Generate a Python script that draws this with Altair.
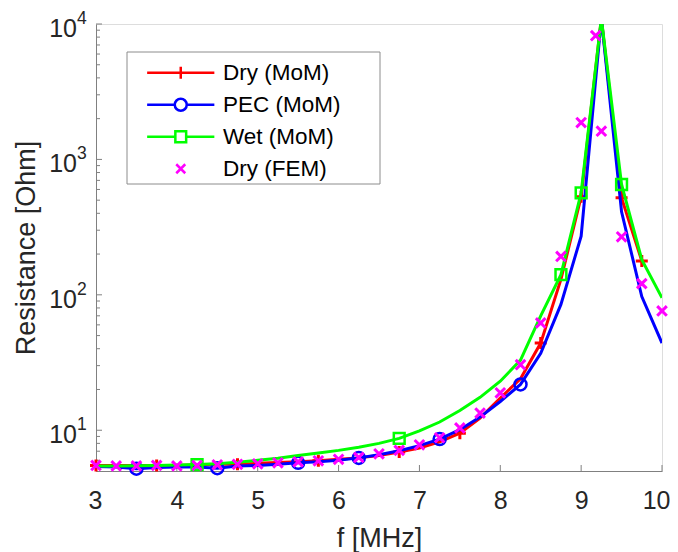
import altair as alt
import pandas as pd

FONT = "Liberation Sans"

# ---------------- data ----------------
freq = [3.0, 3.25, 3.5, 3.75, 4.0, 4.25, 4.5, 4.75, 5.0, 5.25, 5.5, 5.75, 6.0, 6.25,
        6.5, 6.75, 7.0, 7.25, 7.5, 7.75, 8.0, 8.25, 8.5, 8.75, 9.0, 9.25, 9.5, 9.75, 10.0]

dry_mom = [5.5, 5.5, 5.5, 5.5, 5.5, 5.55, 5.6, 5.6, 5.7, 5.78, 5.85, 5.95, 6.1, 6.25,
           6.5, 6.9, 7.4, 8.2, 9.5, 12.3, 17.3, 24.0, 44.0, 130.0, 530.0, 11000.0, 520.0, 178.0]

pec_mom = [5.4, 5.35, 5.2, 5.3, 5.35, 5.35, 5.25, 5.45, 5.5, 5.6, 5.75, 5.85, 6.0, 6.25,
           6.6, 7.05, 7.7, 8.6, 10.1, 12.5, 16.3, 21.8, 37.0, 85.0, 271.0, 11000.0, 410.0, 97.0, 44.0]

wet_mom = [5.45, 5.45, 5.47, 5.5, 5.53, 5.58, 5.65, 5.8, 6.0, 6.2, 6.5, 6.8, 7.1, 7.5,
           8.0, 8.7, 9.9, 11.5, 14.0, 17.5, 23.0, 33.0, 70.0, 141.0, 567.0, 11000.0, 653.0, 182.0, 95.0]

fem_freq = [3.0, 3.25, 3.5, 3.75, 4.0, 4.25, 4.5, 4.75, 5.0, 5.25, 5.5, 5.75, 6.0, 6.25,
            6.5, 6.75, 7.0, 7.25, 7.5, 7.75, 8.0, 8.25, 8.5, 8.75, 9.0, 9.18, 9.25, 9.5, 9.75, 10.0]
dry_fem = [5.5, 5.45, 5.45, 5.5, 5.45, 5.5, 5.55, 5.6, 5.65, 5.75, 5.85, 5.95, 6.1, 6.3,
           6.7, 7.1, 7.8, 8.8, 10.4, 13.4, 18.9, 30.5, 62.0, 192.0, 1870.0, 8200.0, 1615.0, 268.0, 121.0, 76.0]

dry_marker_f = [3.0, 3.75, 4.75, 5.75, 6.75, 7.5, 8.5, 9.0, 9.5, 9.75]
pec_marker_f = [3.5, 4.5, 5.5, 6.25, 7.25, 8.25]
wet_marker_f = [4.25, 6.75, 8.75, 9.0, 9.5]

names = ["Dry (MoM)", "PEC (MoM)", "Wet (MoM)", "Dry (FEM)"]
colors = ["#ff0000", "#0000ff", "#00ff00", "#ff00ff"]

x_ticks = [3, 4, 5, 6, 7, 8, 9, 10]
y_major = [10, 100, 1000, 10000]
y_exp = ["1", "2", "3", "4"]
y_minor = [6, 7, 8, 9, 20, 30, 40, 50, 60, 70, 80, 90,
           200, 300, 400, 500, 600, 700, 800, 900,
           2000, 3000, 4000, 5000, 6000, 7000, 8000, 9000]

# marker shapes (stroked paths, unit = 6 px at size 144)
PLUS = "M-1,0L1,0M0,-1L0,1"
CIRC = "M-1,0A1,1,0,1,0,1,0A1,1,0,1,0,-1,0Z"
SQR = "M-0.9,-0.9L0.9,-0.9L0.9,0.9L-0.9,0.9Z"
XMARK = "M-0.8,-0.8L0.8,0.8M-0.8,0.8L0.8,-0.8"

# legend symbols: line + marker in one path (same unit, line +-5.6)
LEG_DRY = "M-5.6,0L5.6,0M0,-1L0,1"
LEG_PEC = "M-5.6,0L-1,0M1,0L5.6,0M-1,0A1,1,0,1,0,1,0A1,1,0,1,0,-1,0Z"
LEG_WET = "M-5.6,0L-0.9,0M0.9,0L5.6,0M-0.9,-0.9L0.9,-0.9L0.9,0.9L-0.9,0.9Z"
LEG_FEM = "M-0.75,-0.75L0.75,0.75M-0.75,0.75L0.75,-0.75"
leg_paths = [LEG_DRY, LEG_PEC, LEG_WET, LEG_FEM]

W, H = 566, 447

# ---------------- scales / axes ----------------
xscale = alt.Scale(domain=[3, 10], nice=False, zero=False)
yscale = alt.Scale(type="log", domain=[5, 10000], nice=False)

x_axis = alt.Axis(values=x_ticks, format="d", labelFontSize=25, labelFont=FONT,
                  labelColor="#262626", labelPadding=17, labelFlush=True,
                  labelFlushOffset=8, labelOverlap=False, ticks=False, tickSize=0,
                  grid=False, domainColor="#808080", domainWidth=1,
                  title="f [MHz]", titleFontSize=27, titleFont=FONT,
                  titleFontWeight="normal", titleColor="#262626",
                  titleY=75, titleBaseline="alphabetic")
y_axis = alt.Axis(labels=False, ticks=False, tickSize=0, grid=False,
                  domainColor="#808080", domainWidth=1,
                  title="Resistance [Ohm]", titleFontSize=27, titleFont=FONT,
                  titleFontWeight="normal", titleColor="#262626",
                  titleX=-62, titleBaseline="alphabetic", titleAngle=270)

X = alt.X("f:Q", scale=xscale, axis=x_axis)
Y = alt.Y("R:Q", scale=yscale, axis=y_axis)

expr = "datum.value === '%s' ? '%s' : datum.value === '%s' ? '%s' : datum.value === '%s' ? '%s' : '%s'" % (
    names[0], leg_paths[0], names[1], leg_paths[1], names[2], leg_paths[2], leg_paths[3])

legend = alt.Legend(title=None, orient="none", legendX=73.5, legendY=37.5,
                    symbolSize=144, symbolStrokeWidth=2.5,
                    symbolType=alt.ExprRef(expr=expr),
                    symbolFillColor="transparent",
                    labelFontSize=22.5, labelFont=FONT, labelColor="#000000",
                    labelOffset=31, rowPadding=9, padding=0)
C = alt.Color("series:N", scale=alt.Scale(domain=names, range=colors), legend=legend)


def frame(fs, vals, name):
    return pd.DataFrame({"f": fs, "R": vals, "series": name})


def subset(fs, vals, keep, name):
    pairs = [(f, v) for f, v in zip(fs, vals) if f in keep]
    return frame([p[0] for p in pairs], [p[1] for p in pairs], name)


# legend box
box = alt.Chart(pd.DataFrame({"k": [0]})).mark_rect(
    fill="white", stroke="#8c8c8c", strokeWidth=1).encode(
    x=alt.value(31), x2=alt.value(284), y=alt.value(28), y2=alt.value(160))

# manual inward ticks
yt = alt.Chart(pd.DataFrame({"R": y_minor})).mark_rule(color="#808080", strokeWidth=1).encode(
    y=Y, x=alt.value(0), x2=alt.value(4))
ytM = alt.Chart(pd.DataFrame({"R": y_major})).mark_rule(color="#808080", strokeWidth=1).encode(
    y=Y, x=alt.value(0), x2=alt.value(6))
xt = alt.Chart(pd.DataFrame({"f": x_ticks})).mark_rule(color="#808080", strokeWidth=1).encode(
    x=X, y=alt.value(H), y2=alt.value(H - 6))

# y tick labels: "10" with superscript exponent
lab_df = pd.DataFrame({"R": y_major, "exp": y_exp})
ylab = alt.Chart(lab_df).mark_text(text="10", align="right", baseline="alphabetic", dy=13,
                                   fontSize=25, font=FONT, color="#262626").encode(
    y=Y, x=alt.value(-19))
yexp = alt.Chart(lab_df).mark_text(align="left", baseline="alphabetic", dy=0,
                                   fontSize=17.5, font=FONT, color="#262626").encode(
    y=Y, x=alt.value(-19), text="exp:N")

layers = [box, yt, ytM, xt, ylab, yexp]

specs = [
    (freq[:len(dry_mom)], dry_mom, dry_marker_f, PLUS, 3, names[0]),
    (freq, pec_mom, pec_marker_f, CIRC, 2.5, names[1]),
    (freq, wet_mom, wet_marker_f, SQR, 2.5, names[2]),
]
for fs, vals, mk, shp, sw, name in specs:
    layers.append(alt.Chart(frame(fs, vals, name)).mark_line(strokeWidth=3, clip=True).encode(
        x=X, y=Y, color=C))
    layers.append(alt.Chart(subset(fs, vals, mk, name)).mark_point(
        shape=shp, size=144, filled=False, strokeWidth=sw, opacity=1).encode(
        x=X, y=Y, color=C))

layers.append(alt.Chart(frame(fem_freq, dry_fem, names[3])).mark_point(
    shape=XMARK, size=144, filled=False, strokeWidth=3, opacity=1).encode(
    x=X, y=Y, color=C))

chart = alt.layer(*layers).properties(
    width=W, height=H,
    autosize=alt.AutoSizeParams(type="none"),
    padding={"left": 88, "top": 16, "right": 8, "bottom": 81},
).configure_view(stroke=None).configure(background="white")

chart.save("out.html", embed_options={"renderer": "svg", "actions": False})
